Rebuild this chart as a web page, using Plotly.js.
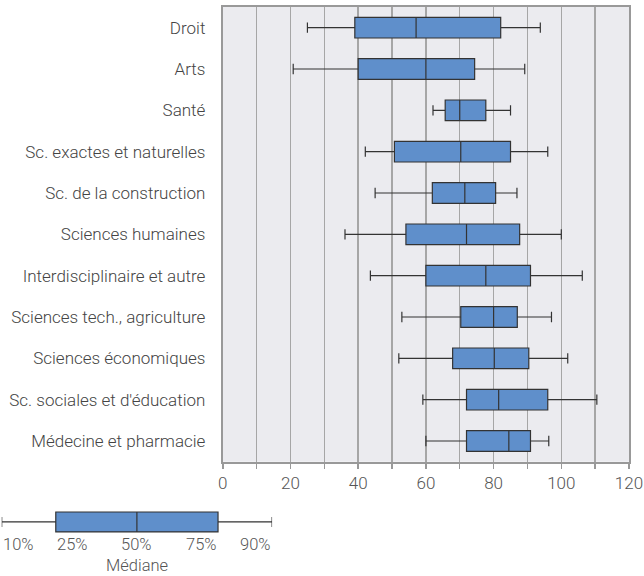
<!DOCTYPE html>
<html>
<head>
<meta charset="utf-8">
<script src="https://cdn.plot.ly/plotly-3.0.1.min.js"></script>
<style>html,body{margin:0;padding:0;background:#fff;}#chart{width:644px;height:576px;}</style>
</head>
<body>
<div id="chart"></div>
<script>
// Categories (top to bottom)
const categories = [
  "Droit", "Arts", "Santé", "Sc. exactes et naturelles", "Sc. de la construction",
  "Sciences humaines", "Interdisciplinaire et autre", "Sciences tech., agriculture",
  "Sciences économiques", "Sc. sociales et d'éducation", "Médecine et pharmacie"
];
// Percentiles
const p10 = [25.0, 20.8, 62.1, 42.1, 45.0, 36.1, 43.6, 52.9, 52.0, 59.1, 60.0];
const p25 = [39.0, 40.0, 65.7, 50.7, 61.9, 54.1, 60.0, 70.3, 67.9, 72.0, 72.0];
const p50 = [57.1, 60.0, 70.0, 70.3, 71.5, 72.0, 77.7, 80.0, 80.2, 81.5, 84.5];
const p75 = [82.1, 74.4, 77.7, 85.0, 80.6, 87.7, 90.9, 87.0, 90.4, 96.0, 90.9];
const p90 = [93.8, 89.2, 85.0, 96.0, 86.9, 100.0, 106.2, 97.1, 101.9, 110.5, 96.3];
// x-axis tick labels
const xTickVals = [0, 20, 40, 60, 80, 100, 120];
const xTickText = ["0", "20", "40", "60", "80", "100", "120"];
// Legend schematic (relative positions of a generic box)
const legendStats = [0, 20, 50, 80, 100];
const legendLabels = ["10%", "25%", "50%", "75%", "90%"];
const legendTitle = "Médiane";

const boxFill = "#5f8fcb";
const boxLine = "#333333";
const fontFam = "Roboto, 'Noto Sans', sans-serif";

const traces = [
  {
    type: "box", orientation: "h",
    y: categories,
    q1: p25, median: p50, q3: p75, lowerfence: p10, upperfence: p90,
    fillcolor: boxFill, line: {color: boxLine, width: 1.2},
    width: 0.5, whiskerwidth: 0.5,
    hoverinfo: "skip", showlegend: false,
    xaxis: "x", yaxis: "y"
  },
  {
    type: "box", orientation: "h",
    y: [0],
    lowerfence: [legendStats[0]], q1: [legendStats[1]], median: [legendStats[2]],
    q3: [legendStats[3]], upperfence: [legendStats[4]],
    fillcolor: boxFill, line: {color: boxLine, width: 1.2},
    width: 1, whiskerwidth: 0.5,
    hoverinfo: "skip", showlegend: false,
    xaxis: "x2", yaxis: "y2"
  }
];

const anchors = ["left", "left", "center", "right", "right"];
const labelFont = {family: fontFam, size: 16.5, color: "#555", weight: 300};
const annotations = legendLabels.map((t, i) => ({
  text: t, x: legendStats[i], y: 0.0562, xref: "x2", yref: "paper",
  xanchor: anchors[i], yanchor: "middle", showarrow: false,
  borderpad: 0, font: labelFont
}));
annotations.push({
  text: legendTitle, x: legendStats[2], y: 0.0176, xref: "x2", yref: "paper",
  xanchor: "center", yanchor: "middle", showarrow: false,
  borderpad: 0, font: labelFont
});

const layout = {
  width: 644, height: 576,
  margin: {l: 0, r: 15, t: 7, b: 0, pad: 0},
  paper_bgcolor: "#ffffff",
  plot_bgcolor: "rgba(0,0,0,0)",
  font: {family: fontFam, size: 17, color: "#444", weight: 300},
  showlegend: false,
  shapes: [{
    type: "rect", xref: "x domain", yref: "y domain",
    x0: 0, x1: 1, y0: 0, y1: 1,
    fillcolor: "#ebebef", line: {width: 0}, layer: "below"
  }],
  xaxis: {
    domain: [0.3542, 1],
    range: [0, 120],
    tickvals: xTickVals, ticktext: xTickText,
    ticks: "outside", ticklen: 5, tickcolor: "#999", tickwidth: 1.5,
    showgrid: true, gridcolor: "#a6a6a6", gridwidth: 1.5,
    minor: {dtick: 10, tick0: 0, showgrid: true, gridcolor: "#a6a6a6", gridwidth: 1.5,
            ticks: "outside", ticklen: 5, tickcolor: "#999", tickwidth: 1.5},
    zeroline: false,
    showline: true, mirror: true, linecolor: "#999", linewidth: 2,
    tickfont: {family: fontFam, size: 17, color: "#555", weight: 300},
    fixedrange: true
  },
  yaxis: {
    domain: [0.2009, 1],
    type: "category",
    categoryorder: "array", categoryarray: categories,
    range: [10.5, -0.5],
    ticks: "outside", ticklen: 12, tickcolor: "rgba(0,0,0,0)",
    showgrid: false, zeroline: false,
    showline: true, mirror: true, linecolor: "#999", linewidth: 2,
    tickfont: {family: fontFam, size: 17, color: "#444", weight: 300},
    fixedrange: true
  },
  xaxis2: {
    domain: [0.0027, 0.4326], anchor: "y2",
    range: [0, 100], visible: false, fixedrange: true
  },
  yaxis2: {
    domain: [0.06, 0.13], anchor: "x2",
    range: [-1, 1], visible: false, fixedrange: true
  },
  annotations: annotations
};

Plotly.newPlot("chart", traces, layout, {displayModeBar: false, staticPlot: true});
</script>
</body>
</html>
